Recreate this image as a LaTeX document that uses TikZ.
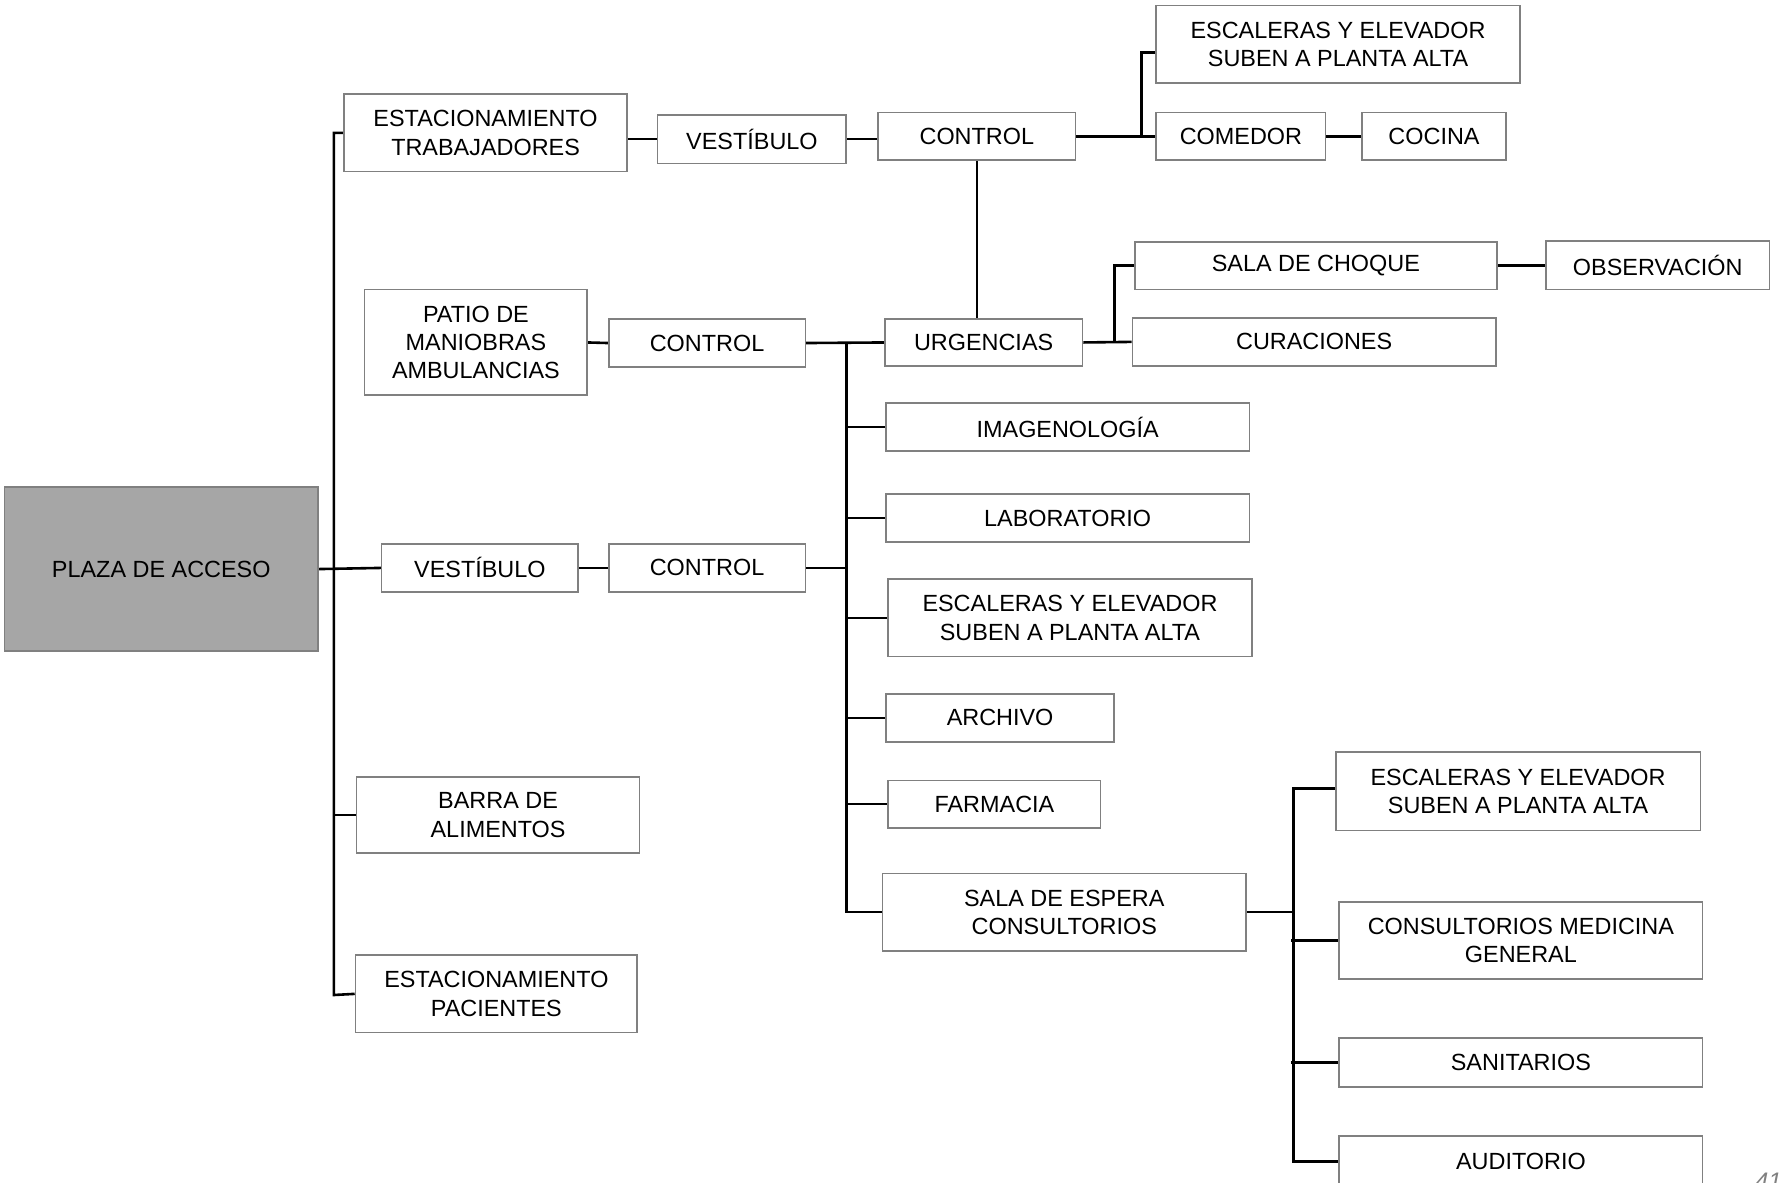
\documentclass[tikz,border=0pt]{standalone}
\usepackage{fontspec}
\setmainfont{Liberation Sans}
\usetikzlibrary{backgrounds}
\definecolor{boxgray}{HTML}{808080}
\definecolor{plazafill}{HTML}{A6A6A6}
\newcommand\mybox[7][]{%
  \node[box,#1,minimum width={(#4-#2)*1.1358bp},minimum height={(#5-#3)*1.1358bp}]
    (#6) at ({(#2+#4)/2},{(#3+#5)/2}) {#7};}
\begin{document}
\begin{tikzpicture}[x=1.1358bp,y=-1.1358bp,
  box/.style={draw=boxgray,line width=1.6bp,fill=white,align=center,inner sep=1bp,
    font=\fontsize{23.5}{28.4}\selectfont},
  conn/.style={line width=2.6bp,black}]
\useasboundingbox (0,0) rectangle (1568,1041);
% boxes
\mybox[fill=plazafill]{4}{429}{280}{573}{plaza}{PLAZA DE ACCESO}
\mybox{303}{83}{552}{151}{etrab}{ESTACIONAMIENTO\\TRABAJADORES}
\mybox{579}{101}{745}{144}{vest1}{VESTÍBULO}
\mybox{773}{99}{947}{141}{ctrl1}{CONTROL}
\mybox{1018}{5}{1338}{73}{esc1}{ESCALERAS Y ELEVADOR\\SUBEN A PLANTA ALTA}
\mybox{1018}{99}{1167}{141}{comedor}{COMEDOR}
\mybox{1199}{99}{1326}{141}{cocina}{COCINA}
\mybox{999}{213}{1318}{255}{choque}{SALA DE CHOQUE}
\mybox{1361}{212}{1558}{255}{obs}{OBSERVACIÓN}
\mybox{997}{280}{1317}{322}{cur}{CURACIONES}
\mybox{779}{281}{953}{322}{urg}{URGENCIAS}
\mybox{321}{255}{517}{348}{patio}{PATIO DE\\MANIOBRAS\\AMBULANCIAS}
\mybox{536}{281}{709}{323}{ctrl2}{CONTROL}
\mybox{780}{355}{1100}{397}{img}{IMAGENOLOGÍA}
\mybox{780}{435}{1100}{477}{lab}{LABORATORIO}
\mybox{336}{479}{509}{521}{vest2}{VESTÍBULO}
\mybox{536}{479}{709}{521}{ctrl3}{CONTROL}
\mybox{782}{510}{1102}{578}{esc2}{ESCALERAS Y ELEVADOR\\SUBEN A PLANTA ALTA}
\mybox{780}{611}{981}{653}{arch}{ARCHIVO}
\mybox{782}{687}{969}{729}{farm}{FARMACIA}
\mybox{777}{769}{1097}{837}{espera}{SALA DE ESPERA\\CONSULTORIOS}
\mybox{314}{684}{563}{751}{barra}{BARRA DE\\ALIMENTOS}
\mybox{313}{841}{561}{909}{epac}{ESTACIONAMIENTO\\PACIENTES}
\mybox{1176}{662}{1497}{731}{esc3}{ESCALERAS Y ELEVADOR\\SUBEN A PLANTA ALTA}
\mybox{1179}{794}{1499}{862}{cons}{CONSULTORIOS MEDICINA\\GENERAL}
\mybox{1179}{914}{1499}{957}{san}{SANITARIOS}
\mybox{1179}{1000}{1499}{1045}{aud}{AUDITORIO}
\node[anchor=north west,inner sep=0,text=boxgray,font=\itshape\fontsize{24}{24}\selectfont] (pg) at (1545,1033) {41};
% connectors
\begin{scope}[on background layer]
\coordinate (ta) at (294,117);
\coordinate (tb) at (294,876);
\draw[conn] (etrab.west) -- (ta) -- (tb) -- (epac.west);
\draw[conn] (plaza.east) -- (vest2.west);
\draw[conn] (barra.west) -- (barra.west -| ta);
\draw[conn] (vest1.west -| etrab.east) -- (vest1.west);
\draw[conn] (vest1.east) -- (vest1.east -| ctrl1.west);
\draw[conn] (ctrl1.east) -- (comedor.west);
\coordinate (c1) at (1005,120);
\coordinate (e1) at ([yshift=-8bp]esc1.west);
\draw[conn] (c1) |- (e1);
\draw[conn] (comedor.east) -- (cocina.west);
\coordinate (cv) at (860,141);
\draw[conn] (cv) -- (cv |- urg.north);
\draw[conn] (urg.east) -- (cur.west);
\coordinate (u1) at (981,301.5);
\draw[conn] (u1) |- (choque.west);
\draw[conn] (choque.east) -- (choque.east -| obs.west);
\draw[conn] (patio.east) -- (ctrl2.west);
\draw[conn] (ctrl2.east) -- (urg.west);
\coordinate (b1) at (745,302);
\coordinate (b2) at (745,803);
\draw[conn] (b1) -- (b2) -- (espera.west);
\draw[conn] (img.west) -- (img.west -| b1);
\draw[conn] (lab.west) -- (lab.west -| b1);
\draw[conn] (esc2.west) -- (esc2.west -| b1);
\draw[conn] (arch.west) -- (arch.west -| b1);
\draw[conn] (farm.west) -- (farm.west -| b1);
\draw[conn] (ctrl3.east) -- (ctrl3.east -| b1);
\draw[conn] (vest2.east) -- (ctrl3.west);
\coordinate (r0) at (1139,803);
\coordinate (r1) at (1139,694);
\coordinate (e3) at ([yshift=2.5bp]esc3.west);
\draw[conn] (espera.east) -- (r0);
\draw[conn] (e3) -- (e3 -| r1) -- (r1 |- aud.west) -- (aud.west);
\draw[conn] (cons.west) -- ([xshift=-3bp]cons.west -| r1);
\draw[conn] (san.west) -- ([xshift=-3bp]san.west -| r1);
\end{scope}
\end{tikzpicture}
\end{document}
